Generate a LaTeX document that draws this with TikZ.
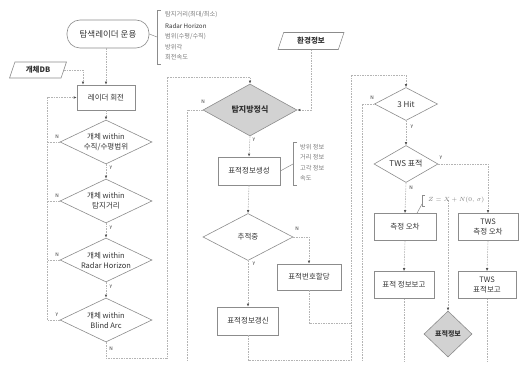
\documentclass[tikz,border=0pt]{standalone}
\usepackage{fontspec}
\setmainfont{Noto Sans CJK KR}
\usetikzlibrary{shapes.geometric,arrows.meta}
\definecolor{txt}{HTML}{333333}
\definecolor{bord}{HTML}{8C8C8C}
\definecolor{conn}{HTML}{B4B4B4}
\definecolor{shade}{HTML}{D2D2D2}
\definecolor{note}{HTML}{7A7A7A}
\begin{document}
\begin{tikzpicture}[x=1pt,y=-1pt,
  every node/.style={text=txt,inner sep=0pt},
  procbox/.style={draw=bord,line width=0.6pt,rectangle,minimum height=27pt,font=\fontsize{7.5}{9.5}\selectfont,align=center},
  decide/.style={draw=bord,line width=0.6pt,diamond,aspect=2,font=\fontsize{7.5}{10}\selectfont,align=center},
  datain/.style={draw=bord,line width=0.6pt,fill=white,trapezium,trapezium left angle=68,trapezium right angle=112,trapezium stretches=true,minimum height=16pt,font=\bfseries\fontsize{7.5}{9}\selectfont},
  conline/.style={draw=conn,line width=0.6pt,dash pattern=on 1.6pt off 1pt},
  flow/.style={conline,-{Latex[length=3pt,width=2.6pt,color=txt!85]}},
  brk/.style={draw=bord,line width=0.5pt},
  notetext/.style={text=note,anchor=west,font=\fontsize{6.2}{7}\selectfont},
  yn/.style={font=\fontsize{4.8}{5}\selectfont}
]
\useasboundingbox (0,0) rectangle (522,366);

% ---------- left column ----------
\node[draw=bord,line width=0.6pt,rectangle,rounded corners=13pt,minimum width=82pt,minimum height=28pt,font=\fontsize{8.5}{10}\selectfont] (start) at (108,34) {탐색레이더 운용};
\coordinate (b1m) at (157,37);
\draw[brk] (161,10) -- (157,10) -- (157,64) -- (161,64);
\draw[brk] (start.east) -- (b1m);
\node[notetext] (n11) at (165,15) {탐지거리(최대/최소)};
\node[notetext,text=txt] (n12) at (165,26) {Radar Horizon};
\node[notetext] (n13) at (165,36.5) {범위(수평/수직)};
\node[notetext] (n14) at (165,47) {방위각};
\node[notetext] (n15) at (165,57.5) {회전속도};

\node[datain,minimum width=57pt] (db) at (38,70) {개체DB};
\node[procbox,minimum width=58pt,minimum height=25pt] (rot) at (106,97.5) {레이더 회전};

\node[decide,minimum width=92pt,minimum height=44pt] (d1) at (106,142) {개체 within\\수직/수평범위};
\node[decide,minimum width=92pt,minimum height=44pt] (d2) at (106,201) {개체 within\\탐지거리};
\node[decide,minimum width=92pt,minimum height=44pt] (d3) at (106,260) {개체 within\\Radar Horizon};
\node[decide,minimum width=92pt,minimum height=44pt] (d4) at (106,320) {개체 within\\Blind Arc};

\coordinate (lx) at (47,0);
\coordinate (dbx) at (83,0);
\draw[flow] (start.south -| rot.north) -- (rot.north);
\draw[flow] (db.east) -| (rot.north -| dbx);
\draw[flow] (rot.south) -- (d1.north);
\draw[flow] (d1.south) -- (d2.north);
\draw[flow] (d2.south) -- (d3.north);
\draw[flow] (d3.south) -- (d4.north);
\draw[conline] (d1.west) -- (d1.west -| lx);
\draw[conline] (d2.west) -- (d2.west -| lx);
\draw[conline] (d3.west) -- (d3.west -| lx);
\draw[flow] (d4.west) -- (d4.west -| lx) |- (rot.west);
\node[yn] (l1n) at (57,137) {N};
\node[yn] (l1y) at (111,168) {Y};
\node[yn] (l2n) at (57,196) {N};
\node[yn] (l2y) at (111,228) {Y};
\node[yn] (l3n) at (57,255) {N};
\node[yn] (l3y) at (111,287) {Y};
\node[yn] (l4y) at (57,315) {Y};
\node[yn] (l4n) at (111,349) {N};

% ---------- middle column ----------
\node[datain,minimum width=66pt,minimum height=17pt] (env) at (311,41) {환경정보};
\node[decide,fill=shade,minimum width=94pt,minimum height=52pt,font=\bfseries\fontsize{8}{10}\selectfont] (det) at (250,110) {탐지방정식};
\node[procbox,minimum width=62pt,minimum height=28pt] (gen) at (249,171) {표적정보생성};
\draw[brk] (297,142) -- (293,142) -- (293,185) -- (297,185);
\coordinate (b2m) at (293,164);
\draw[brk] (gen.east) -- (b2m);
\node[notetext] (n21) at (300,147) {방위 정보};
\node[notetext] (n22) at (300,157.5) {거리 정보};
\node[notetext] (n23) at (300,168) {고각 정보};
\node[notetext] (n24) at (300,178.5) {속도};
\node[decide,minimum width=90pt,minimum height=47pt] (trk) at (248,237) {추적중};
\node[procbox,minimum width=64pt,minimum height=26pt] (asg) at (309,277) {표적번호할당};
\node[procbox,minimum width=61pt,minimum height=28pt] (upd) at (248,321) {표적정보갱신};

\coordinate (mx) at (167,0);
\coordinate (nx) at (187,0);
\coordinate (rx) at (351,0);
\draw[flow] (d4.south) -- ++(0,16) -| (mx |- 0,77) -| (det.north);
\draw[flow] (env.south) |- (det.east);
\coordinate (detend) at (187,362);
\draw[conline] (det.west) -| (detend);
\draw[flow] (det.south) -- (gen.north);
\draw[flow] (gen.south) -- (trk.north);
\draw[flow] (trk.south) -- (upd.north);
\draw[flow] (trk.east) -| (asg.north);
\draw[conline] (asg.south) |- (rx |- 0,323);
\node[yn] (l5n) at (203,102) {N};
\node[yn] (l5y) at (254,140) {Y};
\node[yn] (l6n) at (297,229) {N};
\node[yn] (l6y) at (254,264) {Y};

% ---------- right column ----------
\node[decide,minimum width=63pt,minimum height=33pt,font=\fontsize{8}{10}\selectfont] (hit) at (406,104) {3 Hit};
\node[decide,minimum width=64pt,minimum height=37pt,font=\fontsize{8}{10}\selectfont] (tws) at (406,164) {TWS 표적};
\node[procbox,minimum width=62pt] (e1) at (405,227) {측정 오차};
\node[procbox,minimum width=60pt] (e2) at (488,227) {TWS\\측정 오차};
\node[procbox,minimum width=60pt] (r1) at (404,285) {표적 정보보고};
\node[procbox,minimum width=58pt] (r2) at (487,285) {TWS\\표적보고};
\node[decide,aspect=1,fill=shade,minimum width=48pt,minimum height=46pt,font=\bfseries\fontsize{7}{9}\selectfont] (info) at (448,334) {표적정보};

\draw[flow] (upd.south) |- (rx |- 0,360) -- (rx |- 0,75) -| (hit.north);
\coordinate (hitend) at (362,362);
\draw[conline] (hit.west) -| (hitend);
\draw[flow] (hit.south) -- (tws.north);
\draw[flow] (tws.east) -| (e2.north);
\draw[flow] (tws.south) -- (e1.north);
\draw[flow] (e1.south) -- (r1.north);
\draw[flow] (e2.south) -- (r2.north);
\coordinate (infotop) at (448,200);
\draw[flow] (infotop) -- (info.north);
\coordinate (r1end) at (404,362);
\coordinate (r2end) at (487,362);
\draw[conline] (r1.south) -- (r1end);
\draw[conline] (r2.south) -- (r2end);

\draw[brk] (425,195) -- (422,195) -- (422,206) -- (425,206);
\coordinate (b3m) at (422,204);
\draw[brk] (b3m) -- ([xshift=12pt]e1.north);
\node[anchor=west,text=note,font=\fontsize{6.5}{7}\selectfont] (zeq) at (428,200) {$Z = X + N(0,\,\sigma)$};
\node[yn] (l7n) at (372,98) {N};
\node[yn] (l7y) at (412,127) {Y};
\node[yn] (l8y) at (441,158) {Y};
\node[yn] (l8n) at (411,188) {N};
\end{tikzpicture}
\end{document}
